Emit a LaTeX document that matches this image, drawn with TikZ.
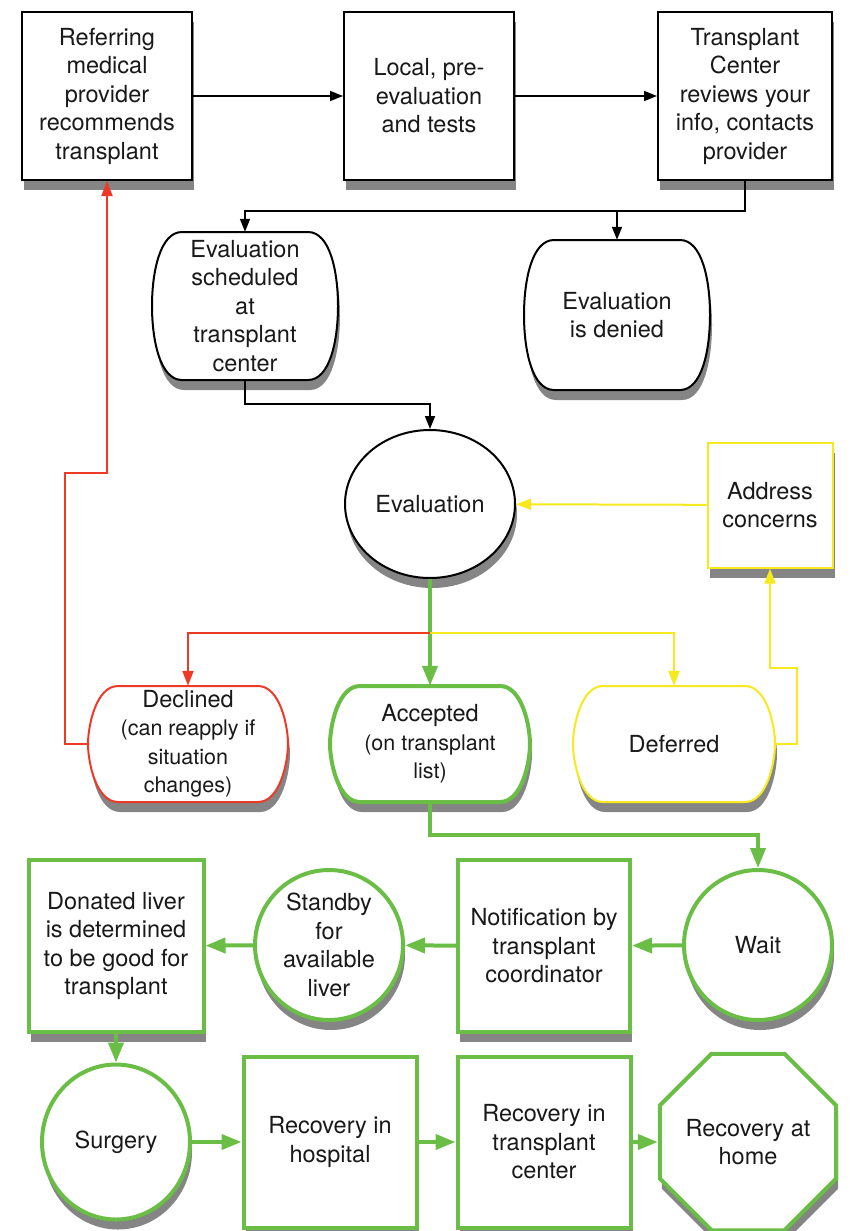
\documentclass[tikz,border=0pt]{standalone}
\usepackage{fontspec}
\setmainfont{TeX Gyre Heros}
\usepackage{xcolor}
\usetikzlibrary{arrows.meta,positioning,calc,shapes.geometric,shadows}
\definecolor{okgreen}{RGB}{106,189,69}
\definecolor{nored}{RGB}{236,58,39}
\definecolor{holdyellow}{RGB}{246,234,30}
\newcommand{\smalltxt}{\fontsize{21.5}{27}\selectfont}
% barrel outline: [style]{centre}{half width}{half height}
\newcommand{\drawbarrel}[4][]{%
  \begin{scope}[shift={(#2)}]
  \draw[barrelline,#1] ({-#3+30},-#4) -- ({#3-30},-#4)
    .. controls ({#3-8},-#4) and (#3,{-#4+40}) .. (#3,0)
    .. controls (#3,{#4-40}) and ({#3-8},#4) .. ({#3-30},#4)
    -- ({-#3+30},#4)
    .. controls ({-#3+8},#4) and (-#3,{#4-40}) .. (-#3,0)
    .. controls (-#3,{-#4+40}) and ({-#3+8},-#4) .. cycle;
  \end{scope}}
\tikzset{
  softshadow/.style = {drop shadow={shadow xshift=2pt, shadow yshift=-10pt,
                         opacity=0.6, fill=black!80}},
  base/.style       = {align=center, inner sep=0pt, text=black!90,
                       font=\fontsize{23.5}{28.5}\selectfont},
  block/.style      = {base, draw, line width=2pt, fill=white, rectangle,
                       minimum width=170pt, minimum height=168pt, softshadow},
  okblock/.style    = {block, draw=okgreen, line width=4pt},
  roundbox/.style   = {base, rectangle, minimum width=186pt, minimum height=148pt},
  barrelline/.style = {line width=2pt, fill=white, softshadow},
  bubble/.style     = {base, draw, ellipse, line width=2pt, fill=white,
                       minimum width=170pt, minimum height=148pt, softshadow},
  okbubble/.style   = {bubble, draw=okgreen, line width=4pt,
                       minimum width=148pt, minimum height=150pt},
  stopsign/.style   = {base, draw=okgreen, line width=4pt, fill=white,
                       regular polygon, regular polygon sides=8,
                       minimum size=185pt, softshadow},
  sig/.style        = {-{Triangle[length=13pt,width=10pt]}, line width=1.6pt},
  oksig/.style      = {-{Triangle[length=20pt,width=15pt]}, line width=4pt, okgreen},
  nosig/.style      = {-{Triangle[length=15pt,width=11pt]}, line width=2pt, nored},
  holdsig/.style    = {-{Triangle[length=15pt,width=11pt]}, line width=2pt, holdyellow},
}
\begin{document}
\begin{tikzpicture}[x=1pt,y=-1pt]
\useasboundingbox (0,0) rectangle (850,1231);
% barrel outlines first, text nodes on top
\drawbarrel{245,306}{93}{74}
\drawbarrel{617,315}{93}{75}
\drawbarrel[draw=nored]{188,744}{100}{58}
\drawbarrel[draw=okgreen,line width=4pt]{430,744}{100}{58}
\drawbarrel[draw=holdyellow]{674,744}{101}{58}
% referral
\node[block] (refer) at (107,96) {Referring\\medical\\provider\\recommends\\transplant};
\node[block] (local) at (429,96) {Local, pre-\\evaluation\\and tests};
\node[block,minimum width=174pt] (review) at (745,96) {Transplant\\Center\\reviews your\\info, contacts\\provider};
\node[roundbox] (sched) at (245,306) {Evaluation\\scheduled\\at\\transplant\\center};
\node[roundbox,minimum height=150pt] (denied) at (617,315) {Evaluation\\is denied};
% evaluation
\node[bubble] (eval) at (430,504) {Evaluation};
\node[block,draw=holdyellow,minimum width=125pt,minimum height=125pt] (concern) at (770,505) {Address\\concerns};
\node[roundbox,minimum width=200pt,minimum height=116pt] (declined) at (188,744)
  {Declined\\ \smalltxt (can reapply if\\ \smalltxt situation\\ \smalltxt changes)};
\node[roundbox,minimum width=200pt,minimum height=116pt] (accepted) at (430,744)
  {Accepted\\ \smalltxt (on transplant\\ \smalltxt list)};
\node[roundbox,minimum width=202pt,minimum height=116pt] (deferred) at (674,744) {Deferred};
% waiting list and surgery
\node[okbubble] (wait) at (758,945) {Wait};
\node[okblock,minimum width=172pt,minimum height=172pt] (notify) at (544,946) {Notification by\\transplant\\coordinator};
\node[okbubble] (standby) at (329,945) {Standby\\for\\available\\liver};
\node[okblock,minimum width=175pt,minimum height=172pt] (donor) at (116,946) {Donated liver\\is determined\\to be good for\\transplant};
\node[okbubble,minimum height=155pt] (surgery) at (116,1142) {Surgery};
\node[okblock,minimum width=173pt,minimum height=171pt] (hospital) at (330,1142) {Recovery in\\hospital};
\node[okblock,minimum width=173pt,minimum height=171pt] (center) at (544,1142) {Recovery in\\transplant\\center};
\node[stopsign] (home) at (748,1142) {Recovery at\\home};
% connectors
\draw[sig] (refer) -- (local);
\draw[sig] (local) -- (review);
\coordinate (split) at ($(review.south)+(0,30)$);
\draw[sig] (review.south) -- (split) -| (sched.north);
\draw[sig] (split -| denied.north) -- (denied.north);
\draw[sig] (sched.south) -- ++(0,24) -| (eval.north);
\draw[holdsig] (concern) -- (eval);
\coordinate (fork) at ($(eval.south)+(0,54)$);
\draw[oksig] (eval.south) -- (accepted.north);
\draw[nosig] (fork) -| (declined.north);
\draw[holdsig] (fork) -| (deferred.north);
\draw[holdsig] (deferred.east) -- ++(22,0) |- ($(concern.south)+(0,99)$) -- (concern.south);
\draw[nosig] (declined.west) -- ++(-23,0) |- ($(refer.south)+(0,292)$) -- (refer.south);
\draw[oksig] (accepted.south) -- ++(0,33) -| (wait.north);
\draw[oksig] (wait) -- (notify);
\draw[oksig] (notify) -- (standby);
\draw[oksig] (standby) -- (donor);
\draw[oksig] (donor) -- (surgery);
\draw[oksig] (surgery) -- (hospital);
\draw[oksig] (hospital) -- (center);
\draw[oksig] (center) -- (home);
\end{tikzpicture}
\end{document}
